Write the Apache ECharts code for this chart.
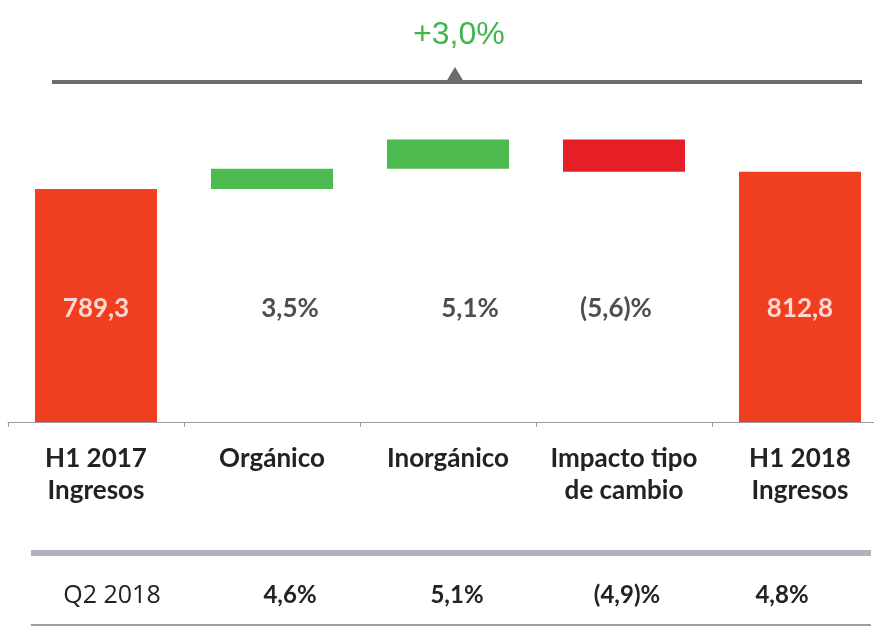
<!DOCTYPE html>
<html>
<head>
<meta charset="utf-8">
<script src="https://cdn.jsdelivr.net/npm/echarts@6/dist/echarts.min.js"></script>
<style>
  html, body { margin: 0; padding: 0; background: #fff; }
  #chart { width: 874px; height: 627px; }
</style>
</head>
<body>
<div id="chart"></div>
<script>
// data
const categories = ['H1 2017\nIngresos', 'Orgánico', 'Inorgánico', 'Impacto tipo\nde cambio', 'H1 2018\nIngresos'];
const baseValues = [0, 789.3, 816.9, 813.0, 0];
const stepValues = [789.3, 27.6, 40.3, 44.2, 812.8];
const barLabels = ['789,3', '3,5%', '5,1%', '(5,6)%', '812,8'];
const q2Labels = ['Q2 2018', '4,6%', '5,1%', '(4,9)%', '4,8%'];
const totalGrowth = '+3,0%';

const barColors = ['#f03e20', '#4cba4f', '#4cba4f', '#e61f27', '#f03e20'];
const labelColors = ['#fff', '#222', '#222', '#222', '#fff'];
const labelShift = [0, 18, 22, -8, 0];
const q2Shift = [32, 36, 18, 6, -36];
const LABEL_Y = 626;
const FONT = 'Lato, "Open Sans", sans-serif';

const chart = echarts.init(document.getElementById('chart'));
const option = {
  animation: false,
  title: {
    text: totalGrowth,
    left: 408,
    top: 14,
    textStyle: { color: '#3fb54b', fontSize: 32, fontWeight: 'normal', fontFamily: '"Liberation Sans", Arial, sans-serif' }
  },
  grid: { left: 8, width: 880, top: 79, bottom: 205, containLabel: false, outerBoundsMode: 'none' },
  xAxis: [
    {
      type: 'category',
      data: categories,
      axisLine: { lineStyle: { color: '#9a9a9a', width: 1 } },
      axisTick: { show: true, length: 5, lineStyle: { color: '#9a9a9a' } },
      axisLabel: {
        margin: 21,
        color: '#222',
        fontSize: 26,
        fontWeight: 'bold',
        fontFamily: FONT,
        lineHeight: 32,
        interval: 0
      }
    },
    {
      type: 'category',
      position: 'bottom',
      offset: 155,
      data: q2Labels.map((t, i) => ({
        value: t,
        textStyle: i === 0
          ? { fontWeight: 'normal', fontSize: 25, color: '#222', fontFamily: '"Open Sans", sans-serif', padding: [0, 0, 0, q2Shift[i]] }
          : { padding: q2Shift[i] >= 0 ? [0, 0, 0, q2Shift[i]] : [0, -q2Shift[i], 0, 0] }
      })),
      axisLine: { show: false },
      axisTick: { show: false },
      axisLabel: {
        margin: 6,
        color: '#222',
        fontSize: 24,
        fontWeight: 'bold',
        fontFamily: FONT,
        interval: 0
      }
    }
  ],
  yAxis: {
    type: 'value',
    min: 470,
    max: 940,
    show: false,
    splitLine: { show: false }
  },
  series: [
    {
      type: 'bar',
      stack: 'w',
      barWidth: 122,
      itemStyle: { color: 'transparent' },
      data: baseValues
    },
    {
      type: 'bar',
      stack: 'w',
      barWidth: 122,
      data: stepValues.map((v, i) => ({ value: v, itemStyle: { color: barColors[i] } }))
    },
    {
      type: 'scatter',
      symbolSize: 0,
      data: barLabels.map((t, i) => ({
        value: [i, LABEL_Y],
        label: {
          show: true,
          position: 'inside',
          offset: [labelShift[i], 0],
          formatter: t,
          color: labelColors[i],
          fontSize: 26,
          fontWeight: 'bold',
          fontFamily: FONT
        }
      }))
    }
  ],
  graphic: [
    { type: 'rect', shape: { x: 52, y: 80, width: 810, height: 4 }, style: { fill: '#6e696d' } },
    { type: 'polygon', shape: { points: [[446, 82], [464, 82], [455, 67]] }, style: { fill: '#6e696d' } },
    { type: 'rect', shape: { x: 31, y: 550, width: 840, height: 6 }, style: { fill: '#b3afbc' } },
    { type: 'rect', shape: { x: 31, y: 624, width: 840, height: 2 }, style: { fill: '#a09ca8' } }
  ]
};
chart.setOption(option);
</script>
</body>
</html>
